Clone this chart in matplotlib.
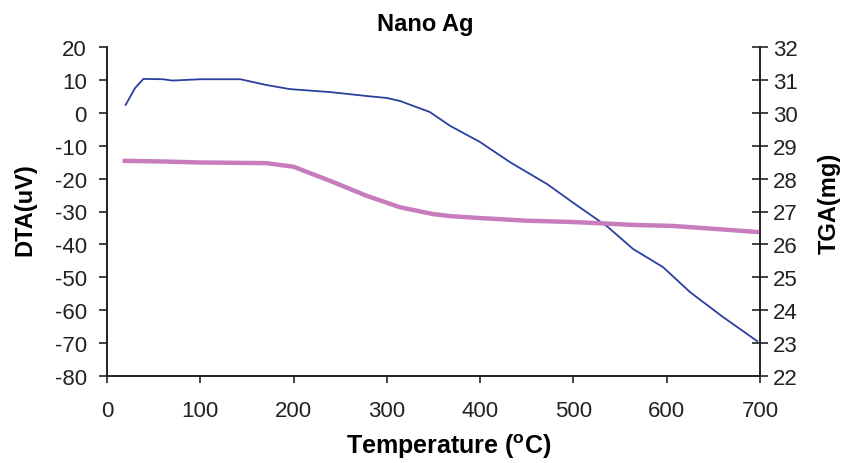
import matplotlib
matplotlib.use("Agg")
import matplotlib.pyplot as plt

plt.rcParams['font.family'] = ['Liberation Sans', 'DejaVu Sans']
plt.rcParams['mathtext.fontset'] = 'custom'
plt.rcParams['mathtext.rm'] = 'Liberation Sans'
plt.rcParams['mathtext.bf'] = 'Liberation Sans:bold'
plt.rcParams['axes.unicode_minus'] = False

title = "Nano Ag"

# DTA (uV) series
dta_temp = [20, 30, 39, 60, 70, 100, 143, 170, 196, 239, 282, 300, 314, 346, 368, 400,
            432, 472, 499, 536, 564, 596, 625, 660, 697]
dta_val = [2.4, 7.5, 10.3, 10.2, 9.8, 10.2, 10.2, 8.5, 7.2, 6.3, 5.0, 4.5, 3.6, 0.24, -4.0, -8.9,
           -15.0, -21.7, -27.2, -34.5, -41.4, -46.9, -54.5, -62.0, -69.4]

# TGA (mg) series
tga_temp = [19, 60, 100, 171, 200, 242, 278, 314, 350, 368, 400, 450, 500, 567, 607, 667, 700]
tga_val = [28.54, 28.52, 28.49, 28.47, 28.36, 27.9, 27.48, 27.13, 26.92, 26.86, 26.8, 26.72,
           26.68, 26.59, 26.56, 26.44, 26.37]

xticks = [0, 100, 200, 300, 400, 500, 600, 700]
dta_ticks = [20, 10, 0, -10, -20, -30, -40, -50, -60, -70, -80]
tga_ticks = [32, 31, 30, 29, 28, 27, 26, 25, 24, 23, 22]

W, H = 842, 464
fig = plt.figure(figsize=(W / 100, H / 100), dpi=100)
ax = fig.add_axes([107 / W, 1 - 377 / H, (760 - 107) / W, (377 - 48) / H])
ax2 = ax.twinx()

ax.plot(dta_temp, dta_val, color='#2b3f9e', lw=1.3, zorder=3)
ax2.plot(tga_temp, tga_val, color='#c77dbd', lw=3.2, zorder=2)

ax.set_xlim(0, 700)
ax.set_ylim(-80, 20)
ax2.set_ylim(22, 32)
ax.set_xticks(xticks)
ax.set_yticks(dta_ticks)
ax2.set_yticks(tga_ticks)

for a in (ax, ax2):
    a.spines['top'].set_visible(False)
    for s in a.spines.values():
        s.set_linewidth(1.2)
        s.set_color('#222222')

tick_fs = 16
ax.tick_params(axis='x', direction='out', length=5, width=1.2, labelsize=tick_fs,
               colors='#222222', pad=12)
ax.tick_params(axis='y', direction='out', length=5.5, width=1.2, labelsize=tick_fs,
               colors='#222222', pad=9)
ax2.tick_params(axis='y', direction='inout', length=11, width=1.2, labelsize=tick_fs,
                colors='#222222', pad=4)

fig.text(425 / W, 1 - 25 / H, title, fontsize=17, fontweight='bold',
         ha='center', va='center')
fig.text(449 / W, 1 - 447 / H, r'Temperature ($\mathbf{^o}$C)', fontsize=18,
         fontweight='bold', ha='center', va='center')
fig.text(25 / W, 1 - 210 / H, 'DTA(uV)', fontsize=17, fontweight='bold',
         rotation=90, ha='center', va='center')
fig.text(829 / W, 1 - 203 / H, 'TGA(mg)', fontsize=17, fontweight='bold',
         rotation=90, ha='center', va='center')

fig.savefig('out.png', dpi=100)
